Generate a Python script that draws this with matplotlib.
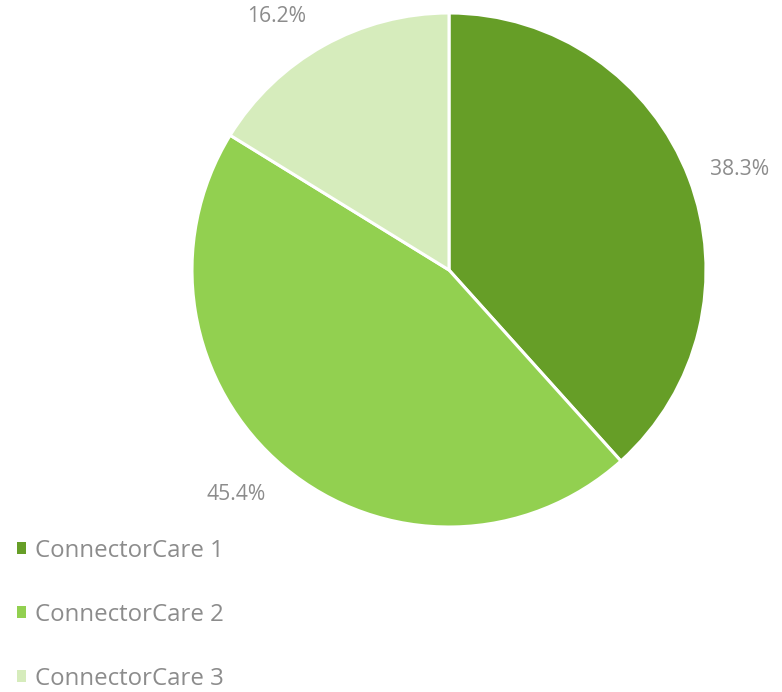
import numpy as np
import matplotlib.pyplot as plt
from matplotlib.patches import Patch

# data
categories = ["ConnectorCare 1", "ConnectorCare 2", "ConnectorCare 3"]
shares = [38.3, 45.4, 16.2]
colors = ["#669e27", "#92d050", "#d6ecbc"]
text_gray = "#8c8c8c"

# small angular nudges (deg) like the best-fit label placement of the original
label_nudge = [-1.5, -3.9, 4.8]

plt.rcParams["font.family"] = ["Open Sans", "DejaVu Sans"]

W, H = 782, 692
fig = plt.figure(figsize=(W / 100, H / 100), dpi=100, facecolor="white")
ax = fig.add_axes([0, 0, 1, 1])

cx, cy, r = 449, H - 270, 257
wedges, _ = ax.pie(
    shares,
    colors=colors,
    center=(cx, cy),
    radius=r,
    startangle=90,
    counterclock=False,
    wedgeprops={"edgecolor": "white", "linewidth": 2.2},
    frame=True,
)
ax.set_xlim(0, W)
ax.set_ylim(0, H)
ax.set_aspect("equal")
ax.axis("off")

# percentage labels outside the slices
for w, val, nudge in zip(wedges, shares, label_nudge):
    ang = np.deg2rad((w.theta1 + w.theta2) / 2 + nudge)
    d = r * 1.2
    ax.text(cx + d * np.cos(ang), cy + d * np.sin(ang) - 2, f"{val:.1f}%",
            ha="center", va="center", color=text_gray, fontsize=15.2)

handles = [Patch(facecolor=c, edgecolor="none") for c in colors]
leg = ax.legend(
    handles,
    categories,
    loc="upper left",
    bbox_to_anchor=(17 / W, 1 - 539 / H),
    bbox_transform=fig.transFigure,
    frameon=False,
    fontsize=17.3,
    handlelength=0.38,
    handleheight=0.38,
    handletextpad=0.38,
    labelspacing=1.66,
    borderaxespad=0,
    borderpad=0,
)
for t in leg.get_texts():
    t.set_color(text_gray)

fig.savefig("out.png", dpi=100, facecolor="white")
